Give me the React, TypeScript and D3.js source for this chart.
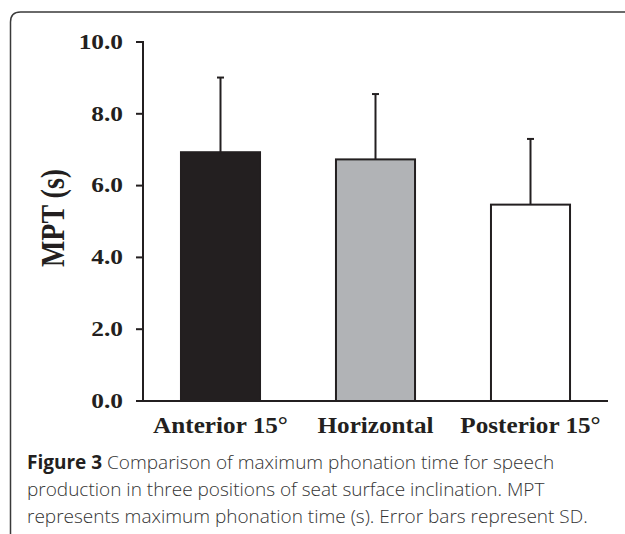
import React from "react";
import * as d3 from "d3";

const categories = ["Anterior 15°", "Horizontal", "Posterior 15°"];
const means = [6.93, 6.73, 5.47];
const sds = [2.08, 1.82, 1.83];
const fills = ["#231f20", "#b1b3b6", "#ffffff"];
const yTicks = [0, 2, 4, 6, 8, 10];
const yLabel = "MPT (s)";
const captionLines = [
  ["Figure 3", " Comparison of maximum phonation time for speech"],
  ["", "production in three positions of seat surface inclination. MPT"],
  ["", "represents maximum phonation time (s). Error bars represent SD."],
];

export default function App() {
  const W = 625, H = 534;
  const x0 = 143, x1 = 608, yTop = 42, yBot = 401;
  const y = d3.scaleLinear().domain([0, 10]).range([yBot, yTop]);
  const x = d3.scaleBand<string>().domain(categories).range([x0, x1]).paddingInner(0.49).paddingOuter(0.245);
  const serif = "'Liberation Serif', 'Times New Roman', serif";
  const sans = "'Open Sans', 'Noto Sans', sans-serif";
  return (
    <svg width={W} height={H} style={{ position: "absolute", left: 0, top: 0, background: "#fff" }}>
      <path d="M10.5,534 L10.5,22 Q10.5,12 20.5,12 L625,12" fill="none" stroke="#3a3a3a" strokeWidth={1.5} />
      {/* bars */}
      {categories.map((c, i) => (
        <rect key={c} x={x(c)!} y={y(means[i])} width={x.bandwidth()} height={yBot - y(means[i])}
          fill={fills[i]} stroke="#231f20" strokeWidth={2} />
      ))}
      {/* error bars */}
      {categories.map((c, i) => {
        const cx = x(c)! + x.bandwidth() / 2;
        return (
          <g key={"e" + c} stroke="#231f20" strokeWidth={2}>
            <line x1={cx} x2={cx} y1={y(means[i])} y2={y(means[i] + sds[i])} />
            <line x1={cx - 3.5} x2={cx + 3.5} y1={y(means[i] + sds[i])} y2={y(means[i] + sds[i])} />
          </g>
        );
      })}
      {/* y axis */}
      <line x1={x0} x2={x0} y1={yTop - 1} y2={yBot} stroke="#231f20" strokeWidth={2} />
      {yTicks.map((t) => (
        <g key={t}>
          <line x1={x0 - 7} x2={x0} y1={y(t)} y2={y(t)} stroke="#231f20" strokeWidth={2} />
          <text transform={`translate(${x0 - 20},${y(t)}) scale(1.18,1)`} dy="0.32em" textAnchor="end"
            fontFamily={serif} fontWeight="bold" fontSize={21.5} fill="#231f20">{t.toFixed(1)}</text>
        </g>
      ))}
      {/* x axis */}
      <line x1={x0} x2={x1} y1={yBot} y2={yBot} stroke="#231f20" strokeWidth={2} />
      {categories.map((c) => (
        <text key={"l" + c} transform={`translate(${x(c)! + x.bandwidth() / 2},433) scale(1.12,1)`}
          textAnchor="middle" fontFamily={serif} fontWeight="bold" fontSize={22.5} fill="#231f20">{c}</text>
      ))}
      <text transform={`translate(64,218) scale(1.2,1) rotate(-90)`} textAnchor="middle" fontFamily={serif}
        fontWeight="bold" fontSize={28} fill="#231f20">{yLabel}</text>
      {/* caption */}
      {captionLines.map((ln, i) => (
        <text key={"c" + i} x={27} y={469 + i * 27} fontFamily={sans} fontSize={19} fontWeight={300} fill="#333333">
          {ln[0] && <tspan fontWeight="bold" fill="#231f20">{ln[0]}</tspan>}
          <tspan>{ln[1]}</tspan>
        </text>
      ))}
    </svg>
  );
}
